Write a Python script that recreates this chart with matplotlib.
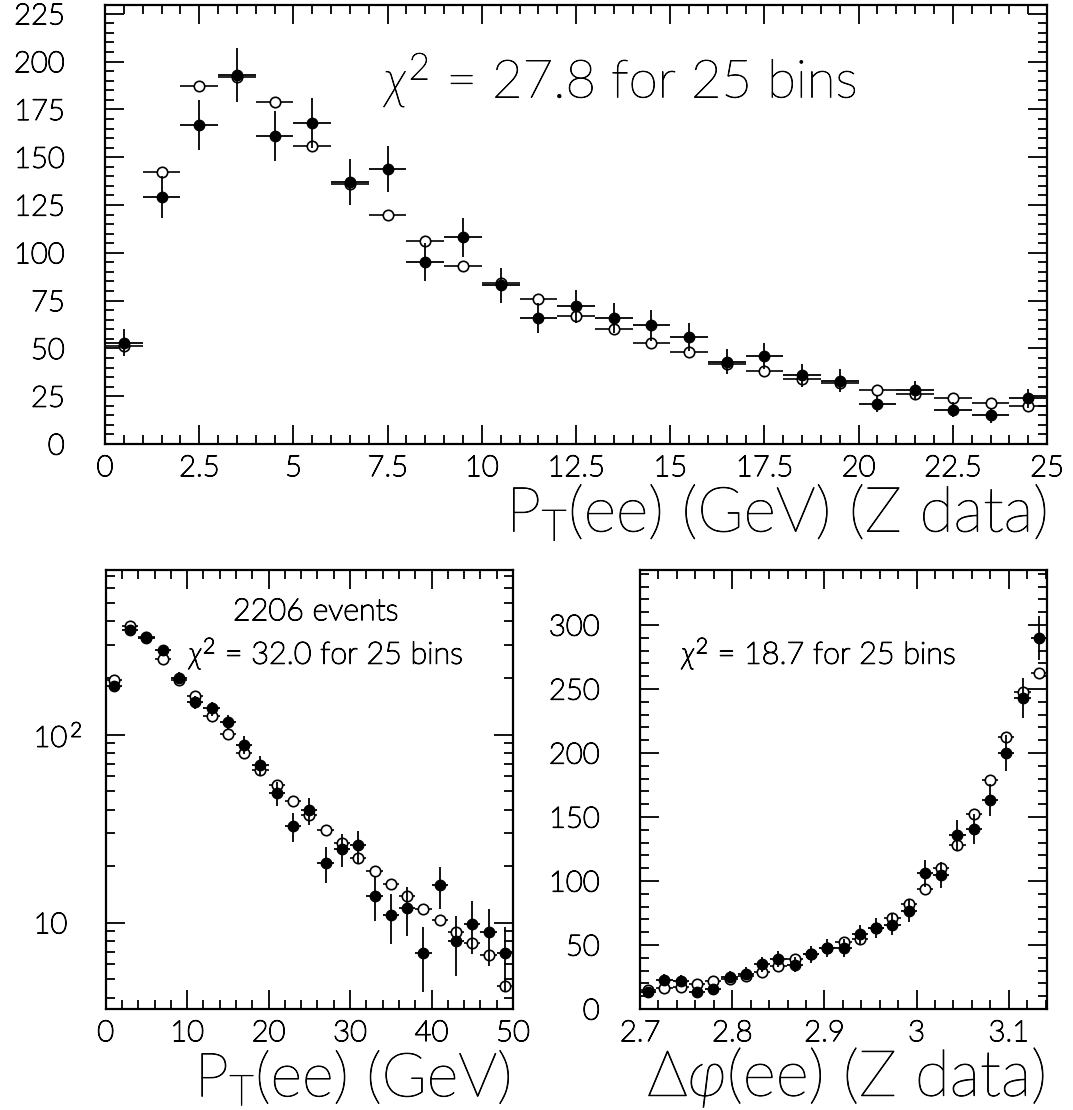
import matplotlib.pyplot as plt
import matplotlib.patheffects as pe
import numpy as np
from matplotlib.ticker import MultipleLocator, FixedLocator, FuncFormatter, NullFormatter, LogLocator

plt.rcParams['font.family'] = ['Lato', 'DejaVu Sans']
plt.rcParams['font.weight'] = 'light'
plt.rcParams['mathtext.fontset'] = 'custom'
plt.rcParams['mathtext.rm'] = 'Lato:light'
plt.rcParams['mathtext.it'] = 'Lato:light:italic'
plt.rcParams['mathtext.sf'] = 'Lato:light'

# ---- data: top panel, PT(ee) 0-25 GeV, 1 GeV bins ----
top_edges = np.arange(0, 26, 1.0)
top_data = [53, 129, 167, 193, 161, 168, 137, 144, 95, 108, 83, 66, 72,
            66, 62, 56, 43, 46, 36, 33, 21, 28, 18, 15, 24]
top_data_err = [7, 11, 13, 14, 13, 13, 12, 12, 10, 10, 9, 8, 8.5,
                8, 8, 7.5, 6.5, 7, 6, 6, 4.5, 5, 4, 4, 5]
top_mc = [51, 142, 187, 192, 179, 156, 136, 120, 106, 93, 84, 76, 67,
          60, 53, 48, 42, 38, 34, 32, 28, 26, 24, 21.5, 20]

# ---- data: bottom-left, PT(ee) 0-50 GeV, 2 GeV bins (log) ----
bl_edges = np.arange(0, 52, 2.0)
bl_data = [181, 360, 326, 281, 201, 149, 138, 117, 88.6, 69, 48.7, 32.7, 39.6,
           20.8, 24.7, 25.8, 13.9, 11.0, 12.0, 6.9, 15.9, 8.0, 9.9, 8.9, 6.9]
bl_data_err = [13, 19, 18, 17, 14, 12, 12, 11, 9.4, 8.3, 7.0, 5.7, 6.3,
               4.6, 5.0, 5.1, 3.7, 3.3, 3.5, 2.6, 4.0, 2.8, 3.1, 3.0, 2.6]
bl_mc = [195, 379, 331, 252, 196, 161, 126, 101, 80, 65, 54, 44.6, 37.2,
         31, 26.7, 22, 18.9, 16.1, 13.9, 11.9, 10.3, 8.9, 7.8, 6.7, 4.6]

# ---- data: bottom-right, delta phi 2.7-pi, 25 bins ----
br_edges = np.linspace(2.7, np.pi, 26)
br_data = [13.5, 22.8, 22.2, 13.5, 15.4, 25, 27.7, 35, 39, 34.5, 42.7, 47.6, 47.6,
           58.3, 63.2, 65.9, 76.8, 106, 104.6, 136.3, 140.4, 163.3, 200, 243.2, 289.9]
br_data_err = [3.7, 4.8, 4.7, 3.7, 3.9, 5, 5.3, 5.9, 6.2, 5.9, 6.5, 6.9, 6.9,
               7.6, 8, 8.1, 8.8, 10.3, 10.2, 11.7, 11.8, 12.8, 14.1, 15.6, 17]
br_mc = [14.6, 16.3, 17.3, 19.5, 22.2, 23.5, 26, 29, 33.6, 39, 42.7, 47.6, 52.2,
         55, 63, 71.3, 81.7, 94, 110, 127.8, 152.6, 178.6, 212.7, 247.3, 262.9]

chi_top = r'$\chi^2$ = 27.8 for 25 bins'
chi_bl = r'$\chi^2$ = 32.0 for 25 bins'
chi_br = r'$\chi^2$ = 18.7 for 25 bins'
n_events = '2206 events'

# thin black outline so the light font reads as black strokes
ink = [pe.Stroke(linewidth=0.9, foreground='black'), pe.Normal()]
ink_big = [pe.Stroke(linewidth=0.6, foreground='black'), pe.Normal()]


def draw_points(ax, edges, data, data_err, mc):
    x = 0.5 * (edges[1:] + edges[:-1])
    half = 0.5 * np.diff(edges)
    ax.errorbar(x, mc, xerr=half, fmt='o', ms=7.5, mfc='white', mec='black',
                mew=1.2, ecolor='black', elinewidth=1.2, capsize=0, zorder=2)
    ax.errorbar(x, data, xerr=half, yerr=data_err, fmt='o', ms=7.5, mfc='black',
                mec='black', mew=1.0, ecolor='black', elinewidth=1.3, capsize=0,
                zorder=3)


def style_axes(ax, ypad=29):
    ax.tick_params(which='both', direction='in', top=True, right=True,
                   labelsize=21, width=1.3)
    ax.tick_params(which='major', length=13.5)
    ax.tick_params(which='minor', length=6.5)
    ax.tick_params(axis='x', which='both', pad=8)
    ax.tick_params(axis='y', which='both', pad=ypad)
    for s in ax.spines.values():
        s.set_linewidth(1.6)


fmt_g = FuncFormatter(lambda v, p: '%g' % round(v, 6))

fig = plt.figure(figsize=(10.73, 11.10), dpi=100)

# top panel
ax1 = fig.add_axes([0.0979, 0.600, 0.8779, 0.3955])
draw_points(ax1, top_edges, top_data, top_data_err, top_mc)
ax1.set_xlim(0, 25)
ax1.set_ylim(0, 229.6)
ax1.xaxis.set_major_locator(MultipleLocator(2.5))
ax1.xaxis.set_minor_locator(MultipleLocator(0.5))
ax1.yaxis.set_major_locator(MultipleLocator(25))
ax1.yaxis.set_minor_locator(MultipleLocator(5))
ax1.xaxis.set_major_formatter(fmt_g)
style_axes(ax1)
ax1.text(0.297, 0.829, chi_top, transform=ax1.transAxes, fontsize=38,
         ha='left', va='center', path_effects=ink_big)
fig.text(0.9758, 0.538, r'P$_{\rm T}$(ee) (GeV) (Z data)', fontsize=45,
         ha='right', va='center', path_effects=ink_big)

# bottom-left panel (log)
ax2 = fig.add_axes([0.0985, 0.091, 0.3796, 0.3955])
draw_points(ax2, bl_edges, bl_data, bl_data_err, bl_mc)
ax2.set_yscale('log')
ax2.set_xlim(0, 50)
ax2.set_ylim(3.48, 751)
ax2.xaxis.set_major_locator(MultipleLocator(10))
ax2.xaxis.set_minor_locator(MultipleLocator(2))
ax2.yaxis.set_major_locator(FixedLocator([10, 100]))
ax2.yaxis.set_minor_locator(LogLocator(base=10, subs=np.arange(2, 10)))
ax2.yaxis.set_minor_formatter(NullFormatter())
ax2.set_yticklabels(['10', r'10$^{\,2}$'])
style_axes(ax2, ypad=52)
plt.setp(ax2.get_yticklabels(), ha='left')
ax2.text(0.515, 0.905, n_events, transform=ax2.transAxes, fontsize=22,
         ha='center', va='center', path_effects=ink)
ax2.text(0.205, 0.81, chi_bl, transform=ax2.transAxes, fontsize=22,
         ha='left', va='center', path_effects=ink)
fig.text(0.476, 0.029, r'P$_{\rm T}$(ee) (GeV)', fontsize=44,
         ha='right', va='center', path_effects=ink_big)

# bottom-right panel
ax3 = fig.add_axes([0.5965, 0.091, 0.3793, 0.3955])
draw_points(ax3, br_edges, br_data, br_data_err, br_mc)
ax3.set_xlim(2.7, np.pi)
ax3.set_ylim(0, 343)
ax3.xaxis.set_major_locator(MultipleLocator(0.1))
ax3.xaxis.set_minor_locator(MultipleLocator(0.02))
ax3.yaxis.set_major_locator(MultipleLocator(50))
ax3.yaxis.set_minor_locator(MultipleLocator(10))
ax3.xaxis.set_major_formatter(fmt_g)
style_axes(ax3)
ax3.text(0.103, 0.81, chi_br, transform=ax3.transAxes, fontsize=22,
         ha='left', va='center', path_effects=ink)
fig.text(0.974, 0.029, r'$\Delta\varphi$(ee) (Z data)', fontsize=46,
         ha='right', va='center', path_effects=ink_big)

fig.canvas.draw()
for ax in (ax1, ax2, ax3):
    for lbl in ax.get_xticklabels() + ax.get_yticklabels():
        lbl.set_path_effects(ink)

fig.savefig('out.png', dpi=100)
